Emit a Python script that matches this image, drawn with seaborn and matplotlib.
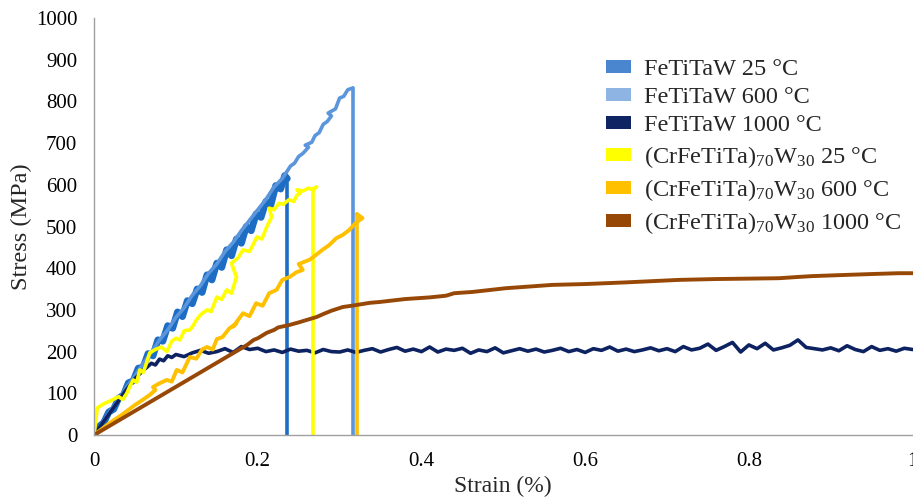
import numpy as np
import pandas as pd
import matplotlib
matplotlib.use("Agg")
import matplotlib.pyplot as plt
import seaborn as sns
from matplotlib.patches import Patch

sns.set_style("white")
plt.rcParams["font.family"] = ["Liberation Serif", "DejaVu Serif"]
plt.rcParams["mathtext.fontset"] = "custom"
plt.rcParams["mathtext.rm"] = "Liberation Serif"
plt.rcParams["mathtext.it"] = "Liberation Serif:italic"

# ---------------- data (strain in %, stress in MPa) ----------------
labels = ["FeTiTaW 25 °C", "FeTiTaW 600 °C", "FeTiTaW 1000 °C",
          r"(CrFeTiTa)$_{70}$W$_{30}$ 25 °C",
          r"(CrFeTiTa)$_{70}$W$_{30}$ 600 °C",
          r"(CrFeTiTa)$_{70}$W$_{30}$ 1000 °C"]

line_colors = ["#1C6DC3", "#5B95DC", "#0D2260", "#FFFF00", "#FFC000", "#974806"]
legend_colors = ["#4A86D0", "#8DB4E2", "#0F2462", "#FFFF00", "#FFC000", "#974806"]

fe25_x = [0, 0.006, 0.012, 0.018, 0.024, 0.03, 0.036, 0.042, 0.048, 0.054, 0.06,
          0.066, 0.072, 0.078, 0.084, 0.09, 0.096, 0.102, 0.108, 0.114, 0.12, 0.126,
          0.132, 0.138, 0.144, 0.15, 0.156, 0.162, 0.168, 0.174, 0.18, 0.186, 0.192,
          0.198, 0.204, 0.21, 0.216, 0.222, 0.228, 0.233, 0.236, 0.236]
fe25_y = [0, 20, 30, 55, 62, 88, 96, 125, 130, 160, 162, 195, 190, 228, 225, 262,
          256, 295, 284, 322, 315, 350, 342, 384, 372, 412, 402, 444, 430, 470, 460,
          500, 490, 530, 522, 560, 552, 598, 590, 622, 615, 0]

fe600_x = [0, 0.01, 0.02, 0.03, 0.04, 0.05, 0.06, 0.07, 0.08, 0.09, 0.1, 0.11, 0.12,
           0.13, 0.14, 0.15, 0.16, 0.17, 0.18, 0.19, 0.2, 0.21, 0.22, 0.23, 0.24,
           0.245, 0.25, 0.255, 0.262, 0.258, 0.266, 0.27, 0.275, 0.28, 0.285, 0.29,
           0.286, 0.295, 0.3, 0.305, 0.31, 0.316, 0.316]
fe600_y = [0, 28, 58, 85, 115, 142, 172, 198, 228, 252, 282, 305, 335, 358, 388, 410,
           440, 462, 490, 515, 540, 565, 595, 615, 645, 652, 668, 675, 690, 695, 702,
           718, 725, 745, 752, 765, 772, 782, 808, 812, 828, 832, 0]

fe1000_x = [0, 0.02, 0.04, 0.05, 0.06, 0.065, 0.07, 0.075, 0.08, 0.085, 0.09, 0.095, 0.1,
            0.11, 0.12, 0.13, 0.14, 0.15, 0.16, 0.17, 0.18, 0.19, 0.2,
            0.21, 0.22, 0.23, 0.24, 0.25, 0.26, 0.27, 0.28, 0.29, 0.3,
            0.31, 0.32, 0.33, 0.34, 0.35, 0.36, 0.37, 0.38, 0.39, 0.4,
            0.41, 0.42, 0.43, 0.44, 0.45, 0.46, 0.47, 0.48, 0.49, 0.5,
            0.51, 0.52, 0.53, 0.54, 0.55, 0.56, 0.57, 0.58, 0.59, 0.6,
            0.61, 0.62, 0.63, 0.64, 0.65, 0.66, 0.67, 0.68, 0.69, 0.7,
            0.71, 0.72, 0.73, 0.74, 0.75, 0.76, 0.77, 0.78, 0.79, 0.8,
            0.81, 0.82, 0.83, 0.84, 0.85, 0.86, 0.87, 0.88, 0.89, 0.9,
            0.91, 0.92, 0.93, 0.94, 0.95, 0.96, 0.97, 0.98, 0.99, 1.0]
fe1000_y = [0, 55, 110, 135, 155, 163, 172, 168, 182, 178, 190, 186, 193,
            188, 197, 203, 196, 200, 207, 198, 212, 205, 208,
            200, 204, 198, 206, 201, 203, 197, 205, 200, 199,
            204, 198, 203, 207, 199, 205, 210, 201, 206, 200,
            211, 199, 206, 203, 208, 196, 204, 200, 209, 197,
            202, 207, 201, 206, 199, 203, 208, 200, 205, 198,
            207, 203, 211, 201, 206, 200, 204, 209, 202, 207,
            200, 212, 204, 208, 218, 203, 212, 222, 199, 216,
            207, 220, 204, 209, 215, 228, 210, 207, 204, 209,
            202, 214, 205, 200, 212, 203, 207, 201, 208, 205]

cr25_x = [0, 0.004, 0.012, 0.02, 0.03, 0.035, 0.04, 0.044, 0.048, 0.052, 0.056, 0.06,
          0.064, 0.068, 0.075, 0.082, 0.089, 0.095, 0.1, 0.105, 0.11, 0.117, 0.121,
          0.125, 0.13, 0.138, 0.143, 0.15, 0.156, 0.162, 0.168, 0.174, 0.171, 0.168,
          0.176, 0.182, 0.19, 0.199, 0.205, 0.211, 0.217, 0.214, 0.22, 0.226, 0.231,
          0.238, 0.244, 0.248, 0.252, 0.248, 0.255, 0.262, 0.267, 0.272, 0.268, 0.268]
cr25_y = [0, 65, 75, 82, 92, 85, 100, 118, 132, 126, 156, 150, 172, 197, 205, 211, 200,
          225, 232, 228, 250, 252, 262, 276, 288, 300, 296, 331, 325, 348, 340, 379,
          395, 412, 425, 444, 440, 475, 470, 499, 523, 544, 540, 556, 553, 564, 560,
          575, 580, 588, 585, 592, 588, 595, 590, 0]

cr600_x = [0, 0.02, 0.035, 0.05, 0.06, 0.068, 0.075, 0.072, 0.08, 0.089, 0.095, 0.101,
           0.108, 0.117, 0.125, 0.132, 0.138, 0.145, 0.15, 0.157, 0.165, 0.174, 0.17,
           0.182, 0.19, 0.198, 0.206, 0.214, 0.223, 0.23, 0.239, 0.247, 0.255, 0.25,
           0.263, 0.27, 0.279, 0.287, 0.296, 0.304, 0.312, 0.318, 0.322, 0.328, 0.321,
           0.321]
cr600_y = [0, 30, 50, 72, 85, 96, 108, 115, 124, 132, 128, 156, 150, 187, 183, 205, 211,
           205, 230, 235, 255, 268, 260, 292, 285, 316, 310, 340, 348, 372, 379, 390,
           396, 410, 420, 430, 444, 455, 472, 480, 492, 505, 512, 520, 530, 0]

cr1000_x = [0, 0.187, 0.195, 0.2, 0.211, 0.22, 0.225, 0.239, 0.25, 0.26, 0.272, 0.28,
            0.29, 0.304, 0.315, 0.337, 0.349, 0.38, 0.41, 0.43, 0.44, 0.462, 0.503,
            0.56, 0.6, 0.65, 0.715, 0.76, 0.8, 0.837, 0.86, 0.877, 0.92, 0.95, 0.983,
            1.0]
cr1000_y = [0, 216, 228, 232, 245, 252, 258, 264, 270, 276, 283, 290, 298, 307, 310,
            317, 319, 326, 330, 334, 340, 343, 352, 360, 362, 366, 372, 374, 375, 376,
            379, 381, 384, 386, 388, 388]

series_x = [fe25_x, fe600_x, fe1000_x, cr25_x, cr600_x, cr1000_x]
series_y = [fe25_y, fe600_y, fe1000_y, cr25_y, cr600_y, cr1000_y]
rise_widths = [5.0, 2.6, 2.6, 2.6, 2.8, 2.8]
drop_width = 2.6

x_ticks = [0, 0.2, 0.4, 0.6, 0.8, 1]
x_tick_labels = ["0", "0.2", "0.4", "0.6", "0.8", "1"]
y_ticks = [0, 100, 200, 300, 400, 500, 600, 700, 800, 900, 1000]

# ---------------- figure ----------------
fig = plt.figure(figsize=(9.13, 5.0), dpi=100)
ax = fig.add_axes([0.103, 0.130, 0.8965, 0.834])

for i, (xs, ys, c, lw) in enumerate(zip(series_x, series_y, line_colors, rise_widths)):
    df = pd.DataFrame({"strain": xs, "stress": ys})
    if i == 2 or i == 5:
        sns.lineplot(data=df, x="strain", y="stress", sort=False, estimator=None,
                     color=c, lw=lw, ax=ax, legend=False)
    else:
        # loading part and final fracture drop drawn from the same series
        sns.lineplot(data=df.iloc[:-1], x="strain", y="stress", sort=False,
                     estimator=None, color=c, lw=lw, ax=ax, legend=False)
        sns.lineplot(data=df.iloc[-2:], x="strain", y="stress", sort=False,
                     estimator=None, color=c, lw=drop_width, ax=ax, legend=False)

ax.set_xlim(0, 1)
ax.set_ylim(0, 1000)
ax.set_xticks(x_ticks)
ax.set_xticklabels(x_tick_labels)
ax.set_yticks(y_ticks)
ax.tick_params(axis="both", labelsize=15, colors="#A0A0A0", labelcolor="black",
               length=5, width=1, direction="out", pad=7)
for s in ["top", "right"]:
    ax.spines[s].set_visible(False)
for s in ["left", "bottom"]:
    ax.spines[s].set_color("#A0A0A0")
    ax.spines[s].set_linewidth(1)

ax.set_xlabel("Strain (%)", fontsize=17, labelpad=4)
ax.set_ylabel("Stress (MPa)", fontsize=17.5)
ax.yaxis.set_label_coords(-0.0757, 0.5)

handles = [Patch(facecolor=c, edgecolor="none") for c in legend_colors]
leg = ax.legend(handles, labels, loc="upper left", bbox_to_anchor=(0.626, 0.902),
                frameon=False, fontsize=17.5, handlelength=1.03, handleheight=0.45,
                handletextpad=0.53, labelspacing=0.3, borderaxespad=0,
                borderpad=0)

fig.savefig("out.png", dpi=100)
